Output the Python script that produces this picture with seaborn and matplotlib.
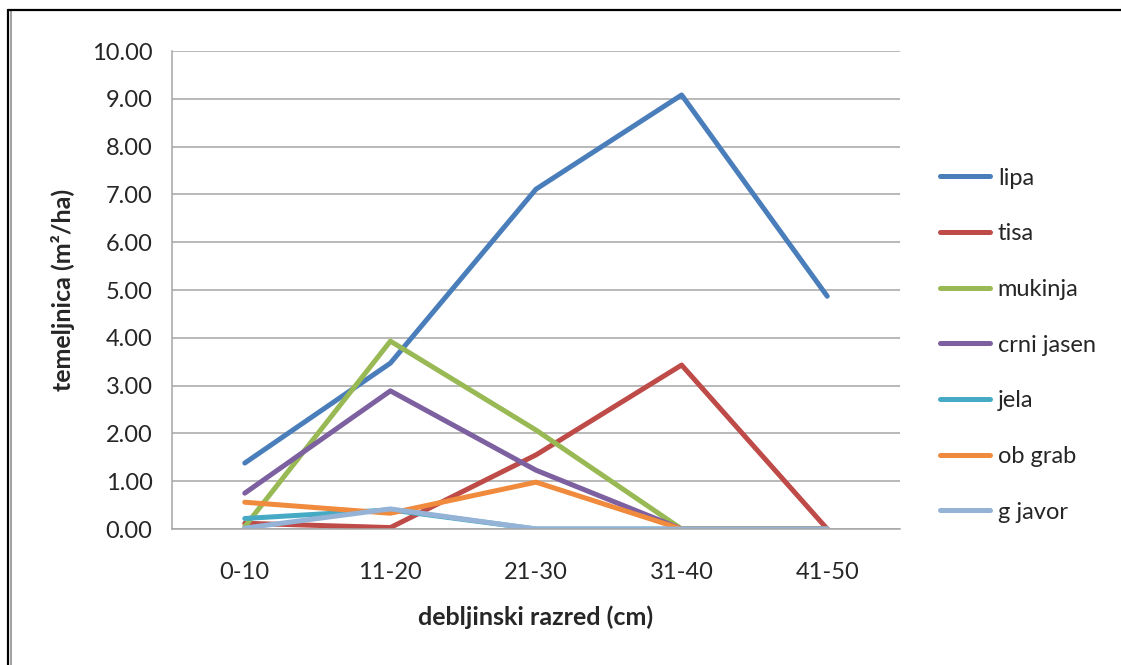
import pandas as pd
import numpy as np
import matplotlib.pyplot as plt
import seaborn as sns
from matplotlib.lines import Line2D

# Data
razredi = ['0-10', '11-20', '21-30', '31-40', '41-50']
lipa = [1.38, 3.47, 7.11, 9.08, 4.87]
tisa = [0.12, 0.03, 1.55, 3.43, 0.00]
mukinja = [0.05, 3.93, 2.07, 0.00, 0.00]
crni_jasen = [0.75, 2.89, 1.23, 0.00, 0.00]
jela = [0.22, 0.40, 0.00, 0.00, 0.00]
ob_grab = [0.56, 0.33, 0.98, 0.00, 0.00]
g_javor = [0.02, 0.42, 0.00, 0.00, 0.00]

vrste = ['lipa', 'tisa', 'mukinja', 'crni jasen', 'jela', 'ob grab', 'g javor']
boje = ['#4A7EBB', '#BE4B48', '#98B954', '#7D60A0', '#46AAC5', '#F08A3C', '#95B3D7']

rows = []
for vrsta, vals in zip(vrste, [lipa, tisa, mukinja, crni_jasen, jela, ob_grab, g_javor]):
    for r, v in zip(razredi, vals):
        rows.append({'razred': r, 'vrsta': vrsta, 'temeljnica': v})
df = pd.DataFrame(rows)

sns.set_style('white')
plt.rcParams['font.family'] = ['Lato', 'DejaVu Sans']

fig = plt.figure(figsize=(11.21, 6.65), dpi=100)
ax = fig.add_axes([0.1534, 0.2045, 0.6495, 0.7188])

sns.lineplot(data=df, x='razred', y='temeljnica', hue='vrsta', hue_order=vrste,
             palette=boje, linewidth=3.6, sort=False, ax=ax,
             solid_capstyle='round', solid_joinstyle='round')

ax.set_xlim(-0.5, 4.5)
ax.set_ylim(0, 10)
ax.set_yticks(np.arange(0, 11, 1))
ax.set_yticklabels([f'{v:.2f}' for v in range(11)])
ax.yaxis.grid(True, color='#A6A6A6', linewidth=1.1)
ax.set_axisbelow(True)

ax.set_xticks(range(len(razredi)))
ax.set_xticks(np.arange(-0.5, 5, 1), minor=True)
ax.tick_params(axis='x', which='major', length=0, pad=24, labelsize=17)
ax.tick_params(axis='x', which='minor', length=8, width=1.1, color='#A6A6A6', direction='out')
ax.tick_params(axis='y', length=8, width=1.1, color='#A6A6A6', direction='out',
               labelsize=17, pad=6)
for lab in ax.get_xticklabels() + ax.get_yticklabels():
    lab.set_color('#262626')

for s in ['top', 'right']:
    ax.spines[s].set_visible(False)
for s in ['left', 'bottom']:
    ax.spines[s].set_color('#A6A6A6')
    ax.spines[s].set_linewidth(1.1)

ax.set_xlabel('debljinski razred (cm)', fontsize=18, fontweight='bold', labelpad=16)
ax.set_ylabel('temeljnica (m²/ha)', fontsize=18, fontweight='bold', labelpad=12)

leg = ax.legend(loc='center left', bbox_to_anchor=(0.8385, 0.481),
                bbox_transform=fig.transFigure, frameon=False, fontsize=17,
                handlelength=2.1, handletextpad=0.35, labelspacing=1.47,
                borderpad=0, borderaxespad=0)
for h in leg.get_lines():
    h.set_linewidth(3.6)
    h.set_solid_capstyle('round')

# outer frame (only the top and left edges are visible)
fig.add_artist(Line2D([8 / 1121, 8 / 1121], [0, 1 - 10 / 665], transform=fig.transFigure,
                      color='black', linewidth=1.6))
fig.add_artist(Line2D([10.5 / 1121, 10.5 / 1121], [0, 1 - 11 / 665], transform=fig.transFigure,
                      color='#A0A0A0', linewidth=1.4))
fig.add_artist(Line2D([8 / 1121, 1], [1 - 10 / 665, 1 - 10 / 665], transform=fig.transFigure,
                      color='black', linewidth=1.6))

fig.savefig('out.png', dpi=100)
